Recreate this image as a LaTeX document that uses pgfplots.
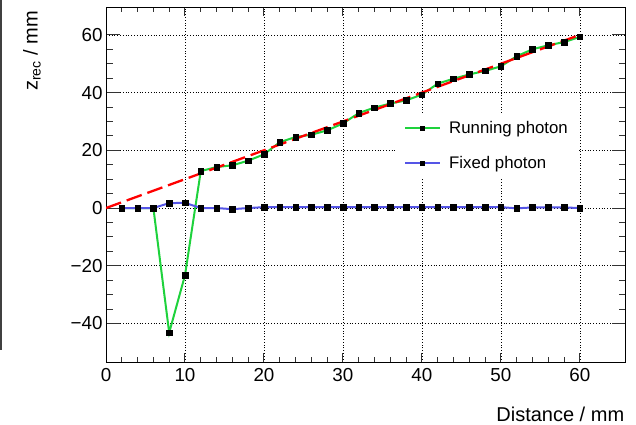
\documentclass[border=0pt]{standalone}
\usepackage{pgfplots}
\pgfplotsset{compat=1.18}
\usepackage{fontspec}
\setmainfont{Liberation Sans}
\definecolor{rgreen}{RGB}{30,210,60}
\definecolor{rblue}{RGB}{85,85,230}
\definecolor{rred}{RGB}{255,0,0}

\begin{document}
\begin{tikzpicture}
\path[use as bounding box] (0,0) rectangle (636bp,425bp);
\draw[black!75, line width=1.2bp] (1bp,75bp) -- (1bp,425bp);
\begin{axis}[
  at={(106bp,62.7bp)}, anchor=south west,
  scale only axis, width=519.7bp, height=355bp,
  xmin=0, xmax=65.8, ymin=-53.45, ymax=69.55,
  xtick={0,10,20,30,40,50,60}, minor x tick num=4,
  ytick={-40,-20,0,20,40,60}, yticklabels={−40,−20,0,20,40,60}, minor y tick num=3,
  tick align=inside,
  xtick pos=both, ytick pos=both,
  grid=major,
  major grid style={black, line width=0.6bp, dash pattern=on 0.8bp off 2bp},
  axis line style={black, line width=1bp},
  tick style={black!80, line width=1bp},
  xtick style={/pgfplots/major tick length=9bp, /pgfplots/minor tick length=5bp},
  ytick style={/pgfplots/major tick length=14bp, /pgfplots/minor tick length=7bp},
  ticklabel style={font=\fontsize{18.8bp}{20bp}\selectfont},
  xticklabel style={yshift=-3bp},
  /pgf/number format/assume math mode=true,
  xlabel={Distance / mm},
  xlabel style={at={(rel axis cs:1,0)}, anchor=base east, yshift=-59.4bp, xshift=2bp, font=\fontsize{20bp}{22bp}\selectfont},
  legend style={draw=none, fill=white, at={(0.56,0.702)}, anchor=north west,
    font=\fontsize{16.8bp}{18bp}\selectfont, row sep=17bp, inner xsep=7bp, inner ysep=6bp},
  legend cell align=left,
  legend image code/.code={\draw[mark repeat=2,mark phase=2,#1, mark size=2bp] plot coordinates {(0bp,0bp) (17.5bp,0bp) (35bp,0bp)}; \path (41bp,0bp);},
]
\addplot[rgreen, line width=2bp, mark=square*, mark size=2.8bp, mark options={fill=black, draw=black, solid, line width=0.5bp}] coordinates {
(2,0)(4,0)(6,0)(8,-43.2)(10,-23.3)(12,12.8)(14,14.2)(16,14.8)(18,16.4)(20,18.6)
(22,22.8)(24,24.6)(26,25.4)(28,26.9)(30,29.3)(32,32.9)(34,34.8)(36,36.2)(38,37.3)(40,39.3)
(42,43.1)(44,44.8)(46,46.3)(48,47.5)(50,49.1)(52,52.6)(54,55.0)(56,56.4)(58,57.5)(60,59.3)};
\addlegendentry{Running photon}
\addplot[rblue, line width=2bp, mark=square*, mark size=2.8bp, mark options={fill=black, draw=black, solid, line width=0.5bp}] coordinates {
(2,0)(4,0)(6,0)(8,1.7)(10,1.8)(12,0)(14,0)(16,-0.4)(18,0)(20,0.3)
(22,0.3)(24,0.3)(26,0.3)(28,0.3)(30,0.3)(32,0.3)(34,0.3)(36,0.3)(38,0.3)(40,0.3)
(42,0.3)(44,0.3)(46,0.3)(48,0.3)(50,0.3)(52,-0.1)(54,0.2)(56,0.2)(58,0.2)(60,0.0)};
\addlegendentry{Fixed photon}
\addplot[rred, line width=2.3bp, dash pattern=on 16bp off 6bp, forget plot] coordinates {(0,0)(60,60)};
\end{axis}
\node[rotate=90, anchor=base east, font=\fontsize{20bp}{22bp}\selectfont] at (37.5bp,417.7bp) {z\textsubscript{rec} / mm};
\end{tikzpicture}
\end{document}
